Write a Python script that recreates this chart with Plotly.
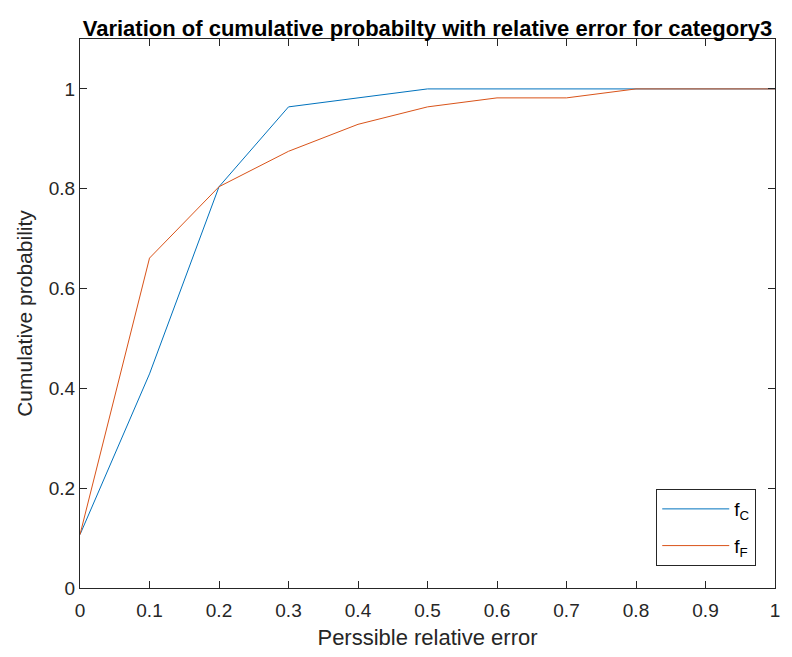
import plotly.graph_objects as go

x = [0, 0.1, 0.2, 0.3, 0.4, 0.5, 0.6, 0.7, 0.8, 0.9, 1.0]
f_C = [0.107, 0.429, 0.804, 0.964, 0.982, 1.0, 1.0, 1.0, 1.0, 1.0, 1.0]
f_F = [0.107, 0.661, 0.804, 0.875, 0.929, 0.964, 0.982, 0.982, 1.0, 1.0, 1.0]
x_ticks = [0, 0.1, 0.2, 0.3, 0.4, 0.5, 0.6, 0.7, 0.8, 0.9, 1]
x_tick_text = ["0", "0.1", "0.2", "0.3", "0.4", "0.5", "0.6", "0.7", "0.8", "0.9", "1"]
y_ticks = [0, 0.2, 0.4, 0.6, 0.8, 1]
y_tick_text = ["0", "0.2", "0.4", "0.6", "0.8", "1"]

fig = go.Figure()
fig.add_trace(go.Scatter(x=x, y=f_C, mode="lines", name="f<sub>C</sub>", legendgroup="c",
                         line=dict(color="#0072BD", width=1)))
fig.add_trace(go.Scatter(x=x, y=f_F, mode="lines", name="f<sub>F</sub>", legendgroup="f",
                         line=dict(color="#D95319", width=1)))

axis_common = dict(showgrid=False, zeroline=False, showline=True, linecolor="#262626",
                   linewidth=1, mirror="ticks", ticks="inside", ticklen=7,
                   tickcolor="#262626", tickfont=dict(size=19, color="#262626"))

fig.update_layout(
    width=792, height=657,
    margin=dict(l=80, r=15, t=39, b=68),
    paper_bgcolor="white", plot_bgcolor="white",
    font=dict(family="Liberation Sans, Arial, sans-serif", color="#262626"),
    title=dict(text="<b>Variation of cumulative probabilty with relative error for category3</b>",
               xref="paper", x=0.5, xanchor="center", y=0.957, yanchor="middle",
               font=dict(size=22, color="black")),
    xaxis=dict(range=[0, 1], tickvals=x_ticks, ticktext=x_tick_text, ticklabelstandoff=5,
               title=dict(text="Perssible relative error", font=dict(size=22), standoff=9),
               **axis_common),
    yaxis=dict(range=[0, 1.1], tickvals=y_ticks, ticktext=y_tick_text,
               title=dict(text="Cumulative probability", font=dict(size=21), standoff=10),
               **axis_common),
    legend=dict(x=0.973, y=0.04, xanchor="right", yanchor="bottom",
                bordercolor="#262626", borderwidth=1, bgcolor="white",
                font=dict(size=19, color="black"), itemwidth=67, tracegroupgap=9),
    showlegend=True,
)

fig.write_html("out.html")
